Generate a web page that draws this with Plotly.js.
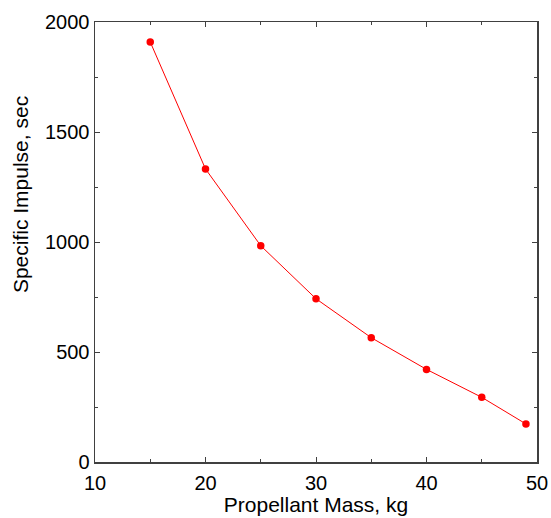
<!DOCTYPE html>
<html>
<head>
<meta charset="utf-8">
<script src="https://cdn.plot.ly/plotly-3.0.1.min.js"></script>
<style>html,body{margin:0;padding:0;background:#fff;}#chart{width:551px;height:518px;}</style>
</head>
<body>
<div id="chart"></div>
<script>
const propellantMass = [15, 20, 25, 30, 35, 40, 45, 49];
const specificImpulse = [1909, 1332, 983, 742, 565, 421, 294, 173];
const xTickVals = [10, 20, 30, 40, 50];
const yTickVals = [0, 500, 1000, 1500, 2000];
const xTitle = 'Propellant Mass, kg';
const yTitle = 'Specific Impulse, sec';

const FONT = 'Liberation Sans, Arial, sans-serif';

const trace = {
  x: propellantMass,
  y: specificImpulse,
  type: 'scatter',
  mode: 'lines+markers',
  line: {color: '#ff0000', width: 1},
  marker: {color: '#ff0000', size: 7.5},
  hoverinfo: 'none'
};

const axisCommon = {
  showgrid: false,
  zeroline: false,
  showline: true,
  linecolor: '#404040',
  linewidth: 1.5,
  mirror: 'allticks',
  ticks: 'inside',
  ticklen: 5,
  tickwidth: 1,
  tickcolor: '#404040',
  tickfont: {family: FONT, size: 20, color: '#000'},
};

const layout = {
  width: 551,
  height: 518,
  margin: {l: 95, r: 14, t: 22, b: 56},
  paper_bgcolor: '#fff',
  plot_bgcolor: '#fff',
  showlegend: false,
  xaxis: Object.assign({}, axisCommon, {
    range: [10, 50],
    tickmode: 'array',
    tickvals: xTickVals,
    ticktext: xTickVals.map(String),
    ticklabelstandoff: 2,
    minor: {dtick: 5, tick0: 10, ticks: 'inside', ticklen: 3, tickcolor: '#404040', showgrid: false},
    title: {text: xTitle, font: {family: FONT, size: 21, color: '#000'}, standoff: 4}
  }),
  yaxis: Object.assign({}, axisCommon, {
    range: [0, 2000],
    tickmode: 'array',
    tickvals: yTickVals,
    ticktext: yTickVals.map(String),
    minor: {dtick: 250, tick0: 0, ticks: 'inside', ticklen: 3, tickcolor: '#404040', showgrid: false}
  }),
  annotations: [{
    text: yTitle,
    xref: 'paper', yref: 'paper',
    x: -0.167, y: 0.607,
    xanchor: 'center', yanchor: 'middle',
    textangle: -90,
    showarrow: false,
    font: {family: FONT, size: 21, color: '#000'}
  }]
};

Plotly.newPlot('chart', [trace], layout, {staticPlot: true, displayModeBar: false});
</script>
</body>
</html>
